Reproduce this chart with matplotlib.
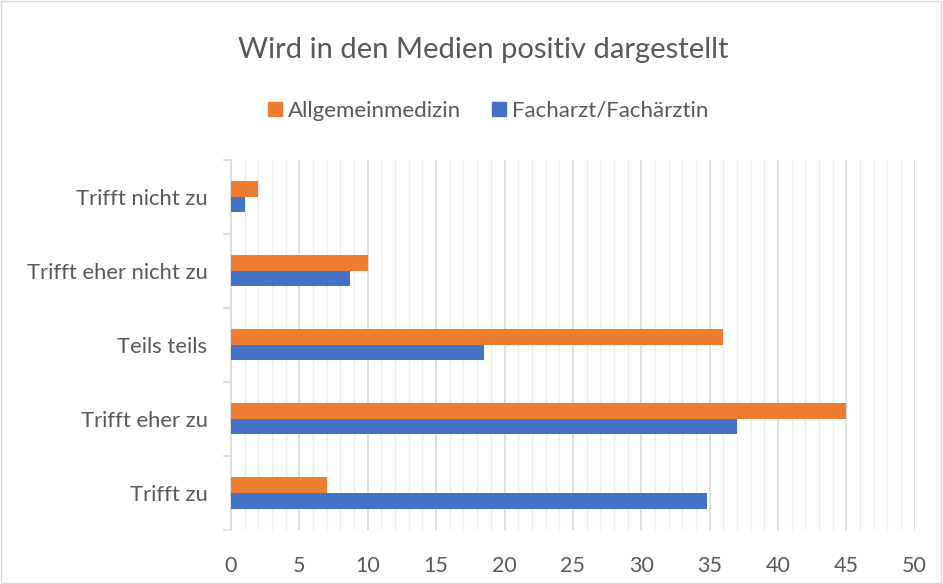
import matplotlib
matplotlib.use('Agg')
import matplotlib.pyplot as plt
from matplotlib.patches import Rectangle, Patch
import numpy as np

plt.rcParams['font.family'] = ['Lato', 'DejaVu Sans']

kategorien = ['Trifft nicht zu', 'Trifft eher nicht zu', 'Teils teils',
              'Trifft eher zu', 'Trifft zu']
allgemein = [2, 10, 36, 45, 7]
facharzt = [1, 8.7, 18.5, 37, 34.8]
serien = ['Allgemeinmedizin', 'Facharzt/Fachärztin']
farben = ['#ED7D31', '#4472C4']
grau = '#595959'

fig = plt.figure(figsize=(9.43, 5.84), dpi=100)
ax = fig.add_axes([0.245, 0.0925, 0.725, 0.634])

y = np.arange(len(kategorien))
h = 0.21
ax.barh(y - h/2, allgemein, height=h, color=farben[0], zorder=3)
ax.barh(y + h/2, facharzt, height=h, color=farben[1], zorder=3)

ax.set_ylim(len(kategorien) - 0.5, -0.5)
ax.set_xlim(0, 50)
ax.set_xticks(np.arange(0, 51, 5))
ax.set_xticks(np.arange(0, 51, 1), minor=True)
ax.grid(axis='x', which='minor', color='#EEEEEE', lw=1, zorder=0)
ax.grid(axis='x', which='major', color='#D9D9D9', lw=1.2, zorder=1)
ax.tick_params(axis='x', which='both', length=0, labelsize=15.5, colors=grau, pad=19)

ax.set_yticks(y)
ax.set_yticklabels(kategorien)
ax.set_yticks(np.arange(-0.5, len(kategorien)), minor=True)
ax.tick_params(axis='y', which='major', length=0, labelsize=15.8, colors=grau, pad=17)
ax.tick_params(axis='y', which='minor', length=6, color='#D9D9D9', width=1.2)

for s in ['top', 'right', 'bottom']:
    ax.spines[s].set_visible(False)
ax.spines['left'].set_color('#D9D9D9')
ax.spines['left'].set_linewidth(1.2)

fig.text(0.512, 0.915, 'Wird in den Medien positiv dargestellt', ha='center', va='center',
         fontsize=21, color=grau)

handles = [Patch(color=c) for c in farben]
fig.legend(handles, serien, loc='center', bbox_to_anchor=(0.518, 0.81), ncol=2,
           frameon=False, fontsize=16, labelcolor=grau, handlelength=0.6,
           handleheight=0.6, handletextpad=0.3, columnspacing=1.4)

fig.patches.append(Rectangle((0.001, 0.001), 0.997, 0.997, transform=fig.transFigure,
                             fill=False, edgecolor='#D9D9D9', lw=1))

fig.savefig('out.png', dpi=100)
